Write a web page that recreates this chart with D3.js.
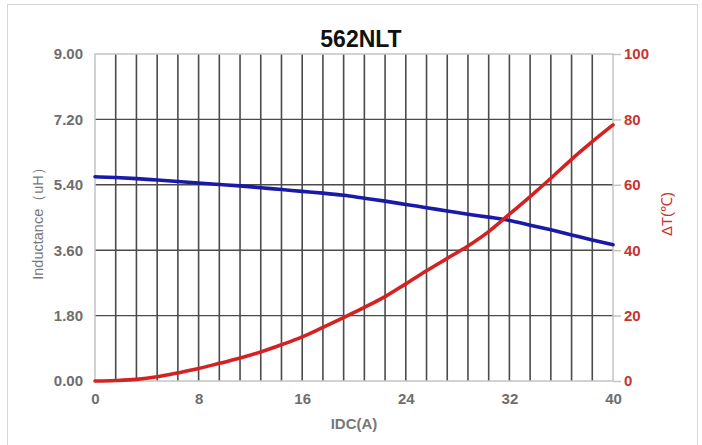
<!DOCTYPE html>
<html><head><meta charset="utf-8">
<script src="https://cdn.jsdelivr.net/npm/d3@7/dist/d3.min.js"></script>
<style>
html,body{margin:0;padding:0;background:#fff;}
svg text{font-family:"Liberation Sans",Arial,sans-serif;}
</style></head>
<body><svg id="c" width="702" height="445"></svg>
<script>
const title = "562NLT";
const idc = [0,1.6,3.2,4.8,6.4,8,9.6,11.2,12.8,14.4,16,17.6,19.2,20.8,22.4,24,25.6,27.2,28.8,30.4,32,33.6,35.2,36.8,38.4,40];
const inductance = [5.62,5.60,5.57,5.53,5.49,5.45,5.41,5.37,5.32,5.27,5.22,5.17,5.11,5.03,4.95,4.86,4.77,4.68,4.59,4.51,4.42,4.29,4.16,4.02,3.88,3.75];
const deltaT = [0,0.15,0.5,1.3,2.5,3.8,5.4,7.0,8.9,11.1,13.5,16.4,19.4,22.5,25.8,29.7,33.7,37.5,41.3,45.7,51.0,56.4,62.0,67.8,73.2,78.3];
const xTicks = [0,8,16,24,32,40];
const yLeftTicks = [0,1.8,3.6,5.4,7.2,9];
const yRightTicks = [0,20,40,60,80,100];
const xLabel = "IDC(A)";
const yLeftLabel = "Inductance（uH）";
const yRightLabel = "ΔT(℃)";

const svg = d3.select("#c");
const L=95, R=613, T=54, B=381;
const x = d3.scaleLinear().domain([0,40]).range([L,R]);
const yL = d3.scaleLinear().domain([0,9]).range([B,T]);
const yR = d3.scaleLinear().domain([0,100]).range([B,T]);

// outer frame
svg.append("rect").attr("x",7.5).attr("y",4.5).attr("width",690).attr("height",460)
  .attr("fill","none").attr("stroke","#d8d8d8").attr("stroke-width",1);

// grid
const g = svg.append("g");
d3.range(1,25).map(i=>i*1.6).forEach(v=>{
  g.append("line").attr("x1",x(v)).attr("x2",x(v)).attr("y1",T).attr("y2",B)
   .attr("stroke","#4a4a4a").attr("stroke-width",1.6);
});
yLeftTicks.slice(1,-1).forEach(v=>{
  g.append("line").attr("x1",L).attr("x2",R).attr("y1",yL(v)).attr("y2",yL(v))
   .attr("stroke","#4a4a4a").attr("stroke-width",1.4);
});
// border
svg.append("rect").attr("x",L).attr("y",T).attr("width",R-L).attr("height",B-T)
  .attr("fill","none").attr("stroke","#c4c4c4").attr("stroke-width",1.5);

// axes
const axL = svg.append("g").attr("transform",`translate(${L},0)`)
  .call(d3.axisLeft(yL).tickValues(yLeftTicks).tickFormat(d3.format(".2f")).tickSize(0).tickPadding(12));
const axR = svg.append("g").attr("transform",`translate(${R},0)`)
  .call(d3.axisRight(yR).tickValues(yRightTicks).tickSize(8).tickPadding(3));
const axB = svg.append("g").attr("transform",`translate(0,${B})`)
  .call(d3.axisBottom(x).tickValues(xTicks).tickSize(0).tickPadding(12));
[axL,axR,axB].forEach(a=>{a.select(".domain").remove();});
axR.selectAll(".tick line").attr("stroke","#c4c4c4").attr("stroke-width",1.5);
axL.selectAll("text").attr("fill","#6e6e6e").attr("font-size",15).attr("font-weight","bold");
axB.selectAll("text").attr("fill","#6e6e6e").attr("font-size",15).attr("font-weight","bold");
axR.selectAll("text").attr("fill","#c8332f").attr("font-size",15).attr("font-weight","bold");

// lines
const lineL = d3.line().x((d,i)=>x(idc[i])).y(d=>yL(d)).curve(d3.curveMonotoneX);
const lineR = d3.line().x((d,i)=>x(idc[i])).y(d=>yR(d)).curve(d3.curveMonotoneX);
svg.append("path").attr("d",lineL(inductance)).attr("fill","none")
  .attr("stroke","#1a1aa8").attr("stroke-width",3.6).attr("stroke-linecap","round");
svg.append("path").attr("d",lineR(deltaT)).attr("fill","none")
  .attr("stroke","#d42222").attr("stroke-width",3.6).attr("stroke-linecap","round");

// titles
svg.append("text").attr("x",361).attr("y",47).attr("text-anchor","middle")
  .attr("font-size",23).attr("font-weight","bold").attr("fill","#111").text(title);
svg.append("text").attr("x",354).attr("y",429).attr("text-anchor","middle")
  .attr("font-size",15).attr("fill","#777").attr("font-weight","bold").text(xLabel);
svg.append("text").attr("transform","translate(43,220) rotate(-90)").attr("text-anchor","middle")
  .attr("font-size",14.5).attr("fill","#777").text(yLeftLabel);
svg.append("text").attr("transform","translate(672,214) rotate(-90)").attr("text-anchor","middle")
  .attr("font-size",15).attr("fill","#c8332f").text(yRightLabel);
</script></body></html>
